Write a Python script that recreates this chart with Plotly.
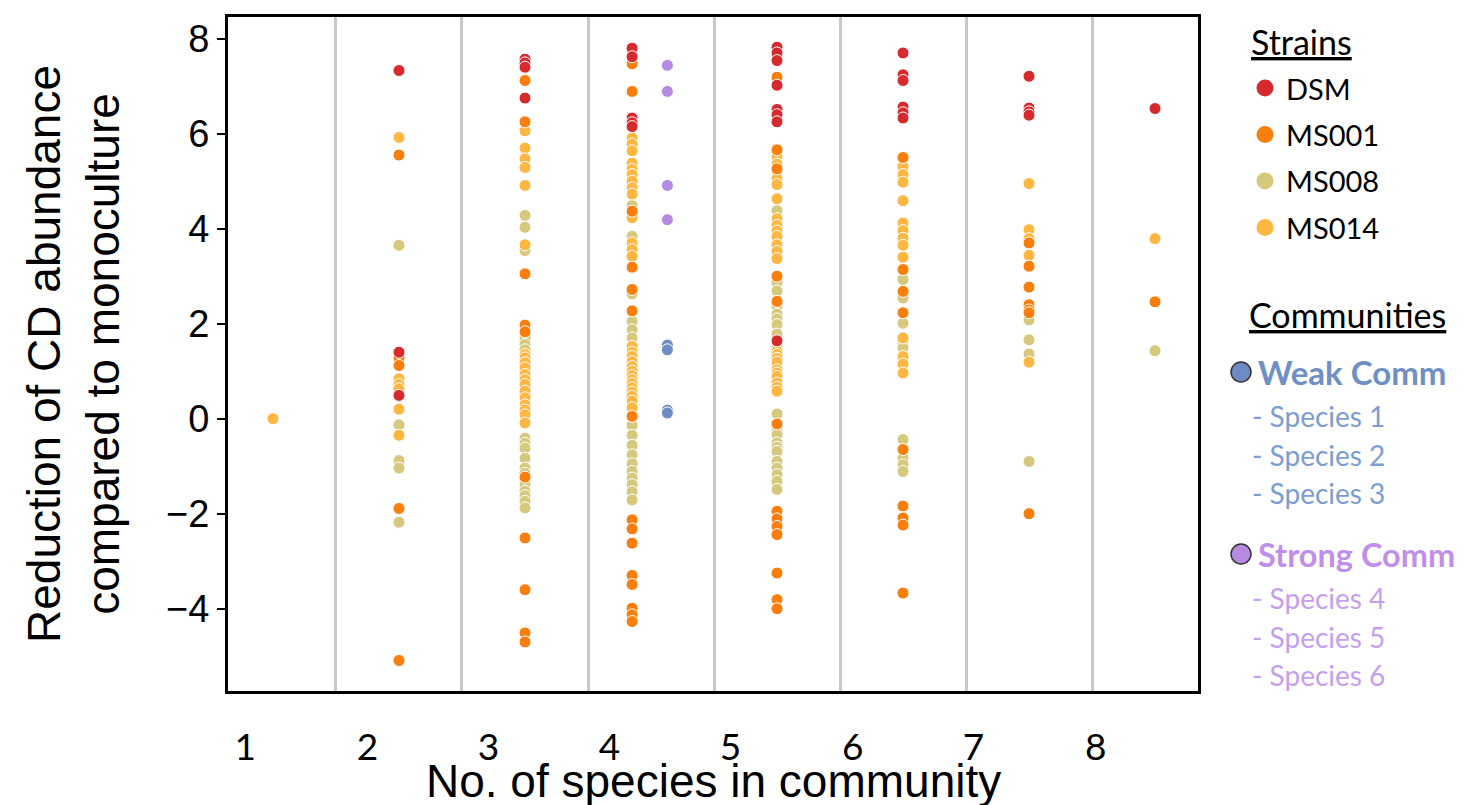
import plotly.graph_objects as go

# ---------------- data ----------------
n_species = [1, 2, 3, 4, 5, 6, 7, 8]
tick_labels = ["1", "2", "3", "4", "5", "6", "7", "8"]
# where the x tick labels sit on the category axis (they drift slightly left in the original)
tick_positions = [0.78, 1.75, 2.71, 3.67, 4.63, 5.60, 6.56, 7.53]
y_ticks = [-4, -2, 0, 2, 4, 6, 8]
y_tick_labels = ["\u22124", "\u22122", "0", "2", "4", "6", "8"]

# values per community size (index 0 -> 1 species ... index 7 -> 8 species)
dsm = [
    [],
    [7.33, 1.40, 0.49],
    [7.57, 7.49, 7.40, 6.75],
    [7.80, 7.62, 6.33, 6.23, 6.15],
    [7.82, 7.70, 7.54, 7.02, 6.51, 6.40, 6.25, 1.64],
    [7.70, 7.24, 7.12, 6.56, 6.44, 6.33],
    [7.21, 6.54, 6.46, 6.39],
    [6.53],
]
ms001 = [
    [],
    [5.55, 1.28, 1.12, -1.89, -5.09],
    [7.12, 6.25, 3.05, 1.97, 1.83, -1.23, -2.51, -3.60, -4.51, -4.70],
    [7.47, 6.89, 4.37, 3.19, 2.72, 2.27, 0.05, -2.13, -2.32, -2.62, -3.30, -3.49, -3.99, -4.13, -4.27],
    [7.19, 5.66, 5.26, 3.00, 2.47, -0.11, -1.95, -2.11, -2.27, -2.44, -3.25, -3.81, -4.00],
    [5.50, 3.14, 2.68, 2.23, -0.65, -1.84, -2.09, -2.24, -3.67],
    [3.70, 3.21, 2.77, 2.40, 2.29, 2.23, -2.00],
    [2.46],
]
ms008 = [
    [],
    [3.65, -0.13, -0.88, -1.04, -2.18],
    [4.28, 4.03, 3.54, 1.70, 1.56, 1.45, -0.41, -0.52, -0.62, -0.83, -1.04, -1.15, -1.39, -1.53, -1.62, -1.74, -1.88],
    [4.49, 3.84, 2.63, 2.05, 1.87, 1.70, -0.14, -0.35, -0.56, -0.76, -0.95, -1.11, -1.25, -1.39, -1.54, -1.71],
    [4.38, 2.86, 2.69, 2.37, 2.20, 2.10, 1.98, 1.78, 0.10, -0.16, -0.25, -0.34, -0.51, -0.60, -0.69, -0.90, -1.04, -1.18, -1.32, -1.49],
    [2.93, 2.54, 2.01, 1.63, 1.49, -0.44, -0.83, -0.97, -1.11],
    [2.08, 1.66, 1.36, -0.90],
    [1.43],
]
ms014 = [
    [0.00],
    [5.92, 0.84, 0.72, 0.63, 0.20, -0.35],
    [6.06, 5.70, 5.47, 5.29, 4.91, 3.66, 1.35, 1.28, 1.18, 1.07, 0.93, 0.82, 0.72, 0.58, 0.44, 0.29, 0.18, 0.08, -0.09],
    [5.91, 5.78, 5.64, 5.38, 5.25, 5.14, 5.00, 4.86, 4.73, 4.23, 3.70, 3.56, 3.42, 1.52, 1.40, 1.31, 1.20, 1.10,
     1.00, 0.91, 0.82, 0.74, 0.65, 0.56, 0.47, 0.37, 0.23],
    [5.52, 5.36, 5.20, 5.05, 4.93, 4.63, 4.21, 4.07, 3.95, 3.84, 3.66, 3.52, 3.37, 1.50, 1.42, 1.35, 1.27, 1.19,
     1.03, 0.96, 0.89, 0.75, 0.66, 0.58],
    [5.31, 5.14, 4.98, 4.59, 4.12, 3.96, 3.80, 3.65, 3.40, 1.70, 1.31, 1.15, 0.96],
    [4.95, 3.98, 3.79, 3.44, 1.19],
    [3.79],
]
weak_comm = [1.55, 1.45, 0.18, 0.12]
strong_comm = [7.44, 6.89, 4.91, 4.19]
comm_size = 4

strain_names = ["DSM", "MS001", "MS008", "MS014"]
strain_values = {"DSM": dsm, "MS001": ms001, "MS008": ms008, "MS014": ms014}
strain_colors = {"DSM": "#d62a2e", "MS001": "#fa7e0c", "MS008": "#d6c97e", "MS014": "#feb842"}
weak_color = "#6b8dc3"
strong_color = "#b58be2"

# horizontal dodge used where communities share a column
strain_dodge = {4: -0.15}
comm_dodge = 0.13

fig = go.Figure()

for name in ["MS008", "MS014", "MS001", "DSM"]:
    xs, ys = [], []
    for n, vals in zip(n_species, strain_values[name]):
        xs += [n + strain_dodge.get(n, 0.0)] * len(vals)
        ys += vals
    fig.add_trace(go.Scatter(
        x=xs, y=ys, mode="markers", name=name, showlegend=False,
        marker=dict(size=12, color=strain_colors[name], line=dict(color="white", width=1)),
    ))

for name, vals, col in [("Weak Comm", weak_comm, weak_color), ("Strong Comm", strong_comm, strong_color)]:
    fig.add_trace(go.Scatter(
        x=[comm_size + comm_dodge] * len(vals), y=vals, mode="markers", name=name, showlegend=False,
        marker=dict(size=12, color=col, line=dict(color="white", width=1)),
    ))

# ---------------- layout ----------------
L, R, T, B = 220, 278, 9, 122
W, H = 1468, 805
PW, PH = W - L - R, H - T - B


def px(x):
    return (x - L) / PW


def py(y):
    return (H - B - y) / PH


fig.update_layout(
    width=W, height=H,
    margin=dict(l=L, r=R, t=T, b=B, autoexpand=False),
    plot_bgcolor="white", paper_bgcolor="white",
    font=dict(family="Liberation Sans, Arial", color="black"),
    showlegend=False,
)

fig.update_xaxes(
    automargin=False,
    range=[0.643, 8.341],
    tickmode="array", tickvals=tick_positions, ticktext=tick_labels,
    ticks="", ticklabelstandoff=22,
    tickfont=dict(family="Lato, Carlito, Calibri", size=37, color="black"),
    showline=True, mirror=True, linewidth=3, linecolor="black",
    showgrid=False, zeroline=False,
    minor=dict(tickmode="array", tickvals=[n + 0.5 for n in n_species[:-1]],
               showgrid=True, gridcolor="#c8c8c8", gridwidth=3, ticks=""),
)
fig.update_yaxes(
    automargin=False,
    range=[-5.733, 8.457],
    tickmode="array", tickvals=y_ticks, ticktext=y_tick_labels,
    ticks="outside", ticklen=8, tickwidth=2, tickcolor="black",
    tickfont=dict(family="Liberation Sans, Arial", size=38, color="black"),
    showline=True, mirror=True, linewidth=3, linecolor="black",
    showgrid=False, zeroline=False,
    title=dict(text="Reduction of CD abundance<br>compared to monoculture",
               font=dict(family="Liberation Sans, Arial", size=46, color="black"), standoff=32),
)

ann = []
shapes = []

# x-axis title (placed as paper text so it can sit close under the tick labels)
ann.append(dict(text="No. of species in community", x=0.5, y=py(773), xref="paper", yref="paper",
                xanchor="center", yanchor="middle", showarrow=False,
                font=dict(family="Liberation Sans, Arial", size=46, color="black")))

# ---------------- custom legend ----------------
LEG_FONT = "Lato, Carlito, Calibri"


def label(text, x, y, size, color="black"):
    ann.append(dict(text=text, x=px(x), y=py(y), xref="paper", yref="paper",
                    xanchor="left", yanchor="middle", showarrow=False,
                    font=dict(family=LEG_FONT, size=size, color=color)))


def dot(x, y, r, fill, line_color=None, line_width=0):
    shapes.append(dict(type="circle", xref="paper", yref="paper",
                       xsizemode="pixel", ysizemode="pixel",
                       xanchor=px(x), yanchor=py(y), x0=-r, x1=r, y0=-r, y1=r,
                       fillcolor=fill, line=dict(color=line_color or fill, width=line_width)))


label("<u>Strains</u>", 1241, 33, 34)
for i, name in enumerate(strain_names):
    yy = 80 + i * 46.5
    dot(1257, yy, 8.5, strain_colors[name])
    label(name, 1276, yy, 29)

label("<u>Communities</u>", 1239, 307, 34)
dot(1233, 364, 10, weak_color, "#333333", 1.5)
label("<b>Weak Comm</b>", 1248, 364, 33, "#6f90c4")
for i in range(3):
    label(f"- Species {i + 1}", 1242, 408 + i * 38.5, 28, "#7c9dd0")
dot(1233, 546, 10, strong_color, "#333333", 1.5)
label("<b>Strong Comm</b>", 1248, 546, 32.5, "#c08fe9")
for i in range(3):
    label(f"- Species {i + 4}", 1242, 590 + i * 38.5, 28, "#c59fee")

fig.update_layout(annotations=ann, shapes=shapes)

fig.write_html("out.html")
